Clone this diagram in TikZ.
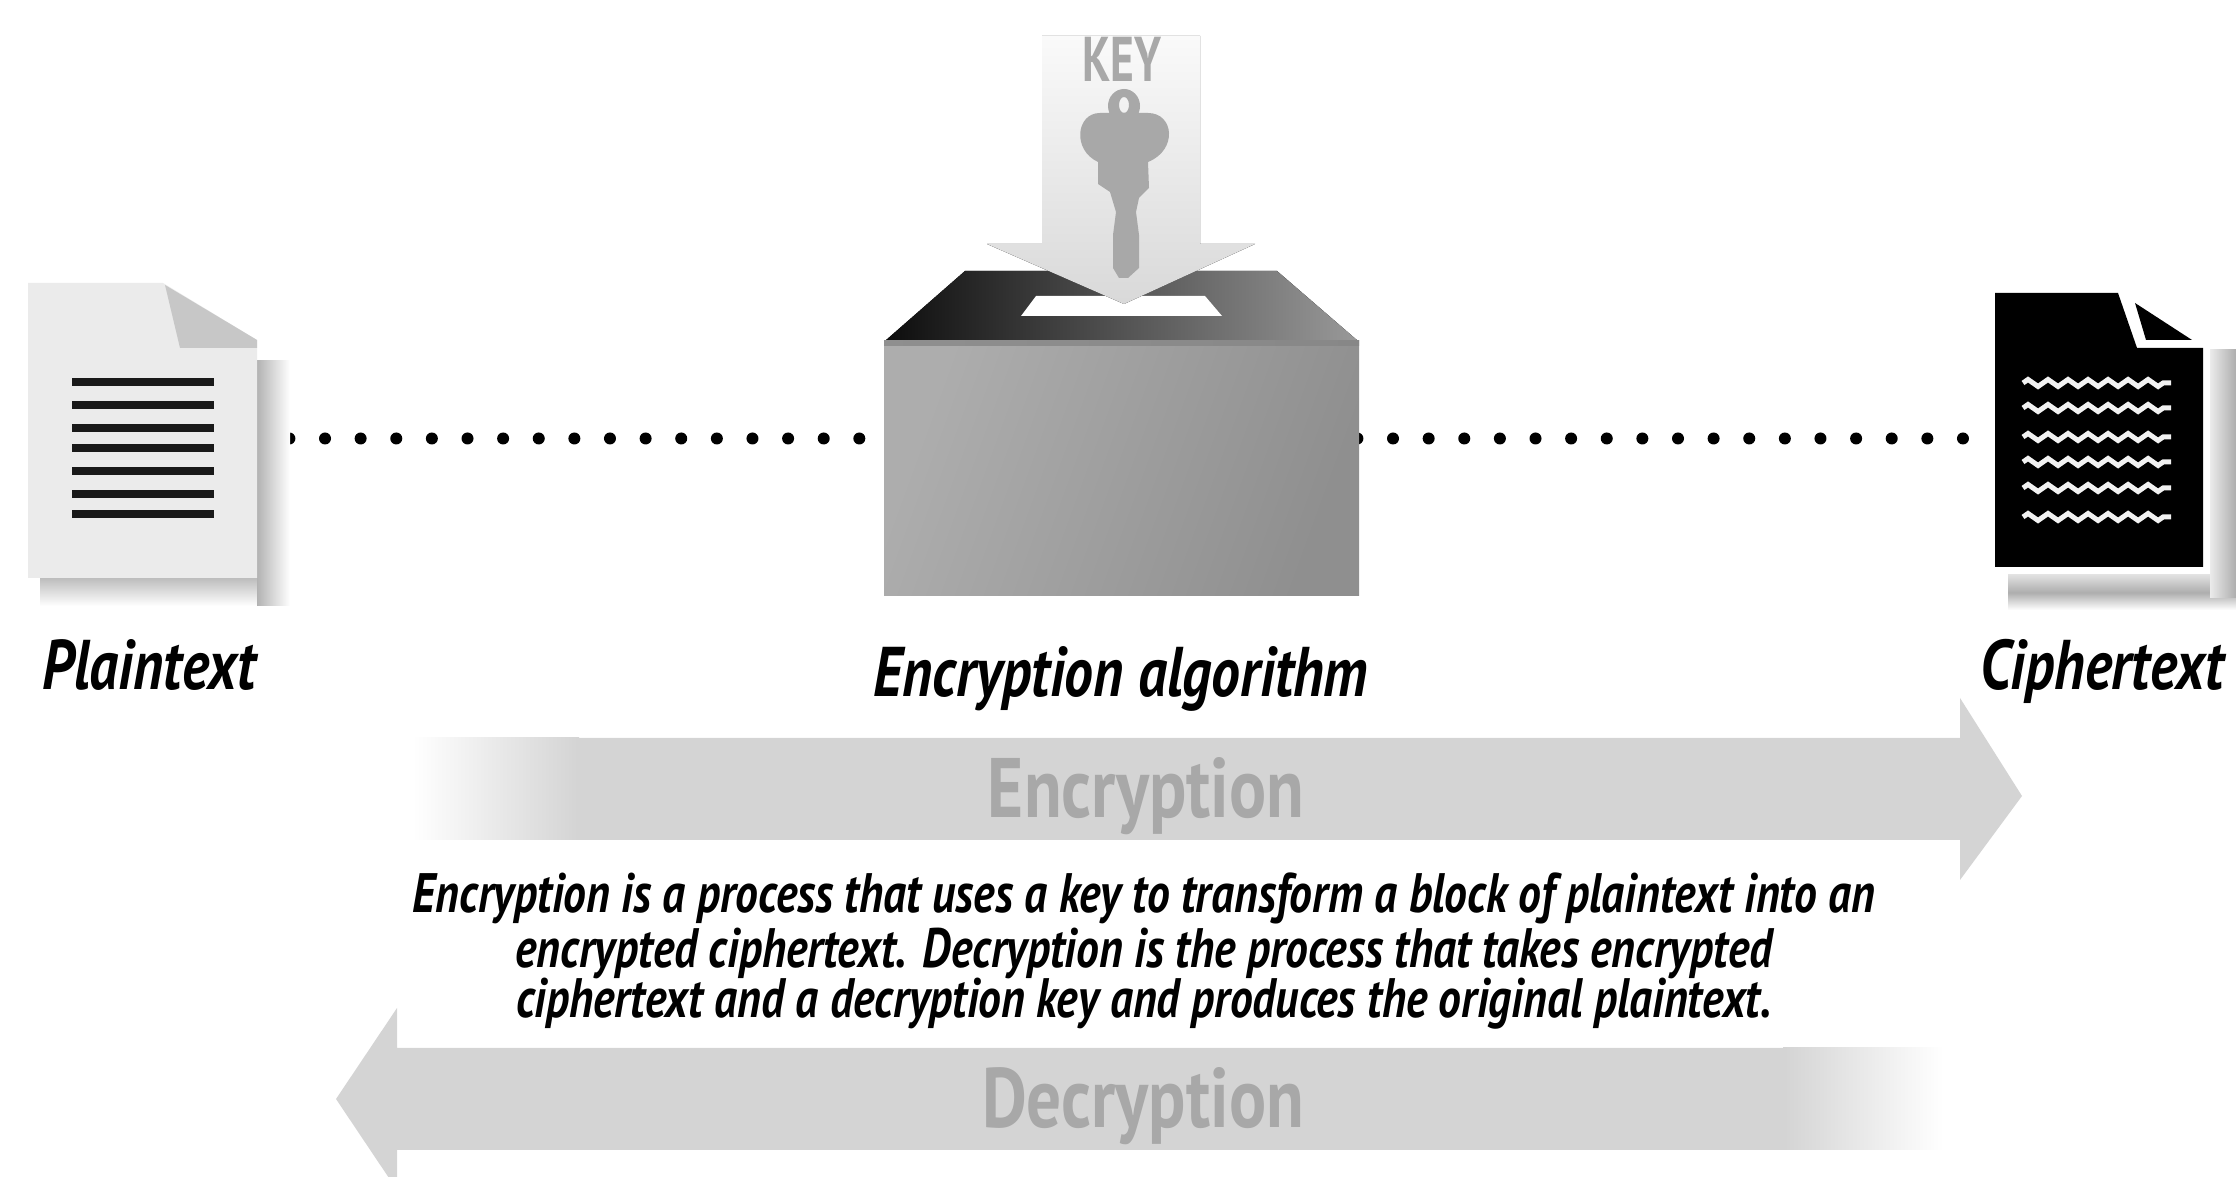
\documentclass[tikz,border=0pt]{standalone}
\usepackage{fontspec}
\usetikzlibrary{decorations.pathmorphing}
\newfontfamily\labelfont[FakeStretch=0.82]{PT Sans}
\newfontfamily\keyfont[FakeStretch=0.72]{PT Sans}
\tikzset{
    doctext/.style={anchor=base,font=\labelfont\bfseries\itshape\fontsize{20}{22}\selectfont},
    bodytext/.style={align=center,anchor=base,font=\labelfont\bfseries\itshape\fontsize{15.8}{14.5}\selectfont},
    bandtext/.style={anchor=base,text=white!66!black,font=\labelfont\bfseries\fontsize{24}{26}\selectfont},
    band/.style={fill=white!83!black},
    dotline/.style={line width=0.12cm,line cap=round,dash pattern=on 0pt off 0.356cm},
    wave/.style={white!95!black,line width=0.05cm,decorate,decoration={zigzag,segment length=0.2cm,amplitude=0.035cm}},
}
\begin{document}
\begin{tikzpicture}[x=0.01cm,y=-0.01cm]
    \useasboundingbox (0,0) rectangle (2236,1177);
    \clip (0,0) rectangle (2236,1177);
    \coordinate (plainend) at (289.4,438.5);
    \coordinate (algoleft) at (860,438.5);
    \coordinate (algoright) at (1357.4,438.5);
    \coordinate (cipherend) at (1963,438.5);
    \draw[dotline] (plainend) -- (algoleft);
    \draw[dotline] (algoright) -- (cipherend);
    % plaintext page
    \fill[top color=white!74!black,bottom color=white] (40,578) rectangle (262,606);
    \fill[left color=white!70!black,right color=white] (257,361) rectangle (290,606);
    \fill[white!92!black] (28,283) -- (163,283) -- (257,340) -- (257,578) -- (28,578) -- cycle;
    \fill[white!78!black] (165,285) -- (180,348) -- (257,348) -- (257,340) -- cycle;
    \foreach \y in {382,405,428,448,471,494,514}{
        \fill[black!90] (72,\y-4) rectangle (214,\y+4);
    }
    % ciphertext page
    \fill[top color=white!88!black,bottom color=white,middle color=white!68!black] (2008,575) rectangle (2236,610);
    \fill[left color=white!92!black,right color=white!68!black] (2210,350) rectangle (2236,598);
    \fill[black] (1995,293) -- (2118,293) -- (2137,348) -- (2203,348) -- (2203,567) -- (1995,567) -- cycle;
    \fill[black] (2135,303) -- (2146,340) -- (2192,340) -- cycle;
    \foreach \y in {383,408,437,462,488,517}{
        \draw[wave] (2023,\y) -- (2171,\y);
    }
    % box
    \fill[left color=black!95,right color=black!40] (885,341) -- (965,271) -- (1277,271) -- (1358,341) -- cycle;
    \fill[white] (1021,316) -- (1036,296) -- (1205,296) -- (1222,316) -- cycle;
    \fill[left color=white!68!black,right color=white!56!black,shading angle=70] (884,341) rectangle (1359,596);
    \fill[left color=white!56!black,right color=white!53!black] (884,341) rectangle (1359,346);
    \fill[top color=white!98!black,bottom color=white!85!black] (1042,36) -- (1200,36) -- (1200,244) -- (1255,244) -- (1124,304) -- (987,244) -- (1042,244) -- cycle;
    % key
    \fill[white!66!black,even odd rule] (1124,106) ellipse (16 and 17) (1124,105) ellipse (5 and 8);
    \fill[white!66!black] (1100,113) -- (1148,113) .. controls (1174,113) and (1178,150) .. (1148,162) -- (1149,188) -- (1139,198) -- (1136,212) -- (1139,235) -- (1139,268) -- (1128,278) -- (1119,278) -- (1113,268) -- (1113,235) -- (1116,212) -- (1110,192) -- (1098,184) -- (1098,162) .. controls (1072,150) and (1076,113) .. (1100,113) -- cycle;
    \node[bandtext,font=\keyfont\bfseries\fontsize{18}{20}\selectfont] (keylabel) at (1122,82) {KEY};
    % labels
    \node[doctext] (plainlabel) at (149,690) {Plaintext};
    \node[doctext] (algolabel) at (1121,697) {Encryption algorithm};
    \node[doctext] (cipherlabel) at (2102,690) {Ciphertext};
    % encryption arrow
    \fill[left color=white,right color=white!83!black] (413,738) rectangle (579,840);
    \fill[band] (578,738) -- (1960,738) -- (1960,698) -- (2022,796) -- (1960,880) -- (1960,840) -- (578,840) -- cycle;
    \node[bandtext] (encband) at (1146,818) {Encryption};
    % explanation
    \node[bodytext] (explain) at (1144,1018) {Encryption is a process that uses a key to transform a block of plaintext into an\\
        encrypted ciphertext. Decryption is the process that takes encrypted\\
        ciphertext and a decryption key and produces the original plaintext.};
    % decryption arrow
    \fill[left color=white!83!black,right color=white] (1783,1048) rectangle (1943,1150);
    \fill[band] (1784,1048) -- (397,1048) -- (397,1008) -- (336,1099) -- (397,1190) -- (397,1150) -- (1784,1150) -- cycle;
    \node[bandtext] (decband) at (1143,1128) {Decryption};
\end{tikzpicture}
\end{document}
